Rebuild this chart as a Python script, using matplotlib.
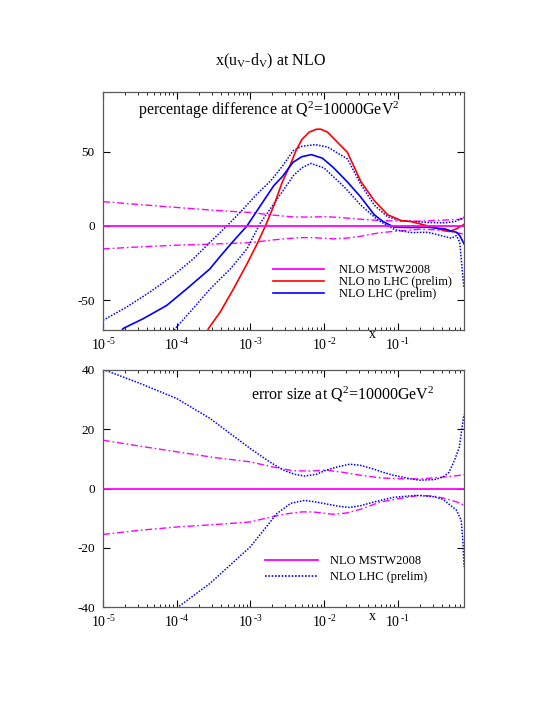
import numpy as np
import matplotlib
matplotlib.use("Agg")
import matplotlib.pyplot as plt

plt.rcParams["font.family"] = ["Liberation Serif", "DejaVu Serif"]
plt.rcParams["mathtext.fontset"] = "custom"
plt.rcParams["mathtext.rm"] = "Liberation Serif"
plt.rcParams["mathtext.it"] = "Liberation Serif:italic"
plt.rcParams["axes.unicode_minus"] = False

# ---- data (x given as log10 x) ----
xticks = [1e-5, 1e-4, 1e-3, 1e-2, 1e-1]
xtick_labels = [r"10$^{\,\text{-5}}$", r"10$^{\,\text{-4}}$", r"10$^{\,\text{-3}}$",
                r"10$^{\,\text{-2}}$", r"10$^{\,\text{-1}}$"]

# MSTW2008 error band (percent), same in both panels
mstw_up_lx = [-5, -4.5, -4, -3.5, -3, -2.7, -2.42, -2.2, -1.97, -1.75, -1.51, -1.24, -1.0, -0.7, -0.4, -0.2, -0.097]
mstw_up_y = [16.3, 14.3, 12.4, 10.5, 9.0, 7.3, 6.0, 5.9, 6.2, 5.5, 4.5, 3.6, 3.3, 3.2, 3.8, 4.3, 4.7]
mstw_dn_lx = [-5, -4.5, -4, -3.5, -3, -2.7, -2.49, -2.3, -2.15, -1.88, -1.7, -1.5, -1.24, -1.0, -0.7, -0.5, -0.35, -0.2, -0.097]
mstw_dn_y = [-15.5, -14.1, -13.0, -12.2, -11.3, -9.5, -8.5, -7.9, -7.9, -8.7, -8.3, -7.0, -4.6, -3.5, -2.3, -2.6, -3.4, -4.5, -5.6]

# percentage difference: no LHC fit
nolhc_lx = [-3.60, -3.567, -3.408, -3.227, -3.044, -2.907, -2.794, -2.68, -2.566, -2.453, -2.38, -2.30, -2.20,
            -2.10, -2.044, -1.95, -1.86, -1.68, -1.5, -1.316, -1.134, -0.952, -0.816, -0.59, -0.41, -0.294,
            -0.2, -0.13, -0.097]
nolhc_y = [-73, -69, -57.9, -42.3, -25.5, -12.1, 0, 13.6, 29.3, 41.5, 50.5, 58, 63, 65, 65, 63, 58.4, 49.4,
           30, 17, 7.5, 3.6, 2.9, 0, -2.5, -3.8, -2, 0, 1]

# percentage difference: LHC fit, central and error band
lhc_lx = [-4.76, -4.727, -4.454, -4.135, -3.862, -3.55, -3.4, -3.226, -3.044, -2.862, -2.681, -2.566, -2.42,
          -2.30, -2.17, -2.02, -1.875, -1.68, -1.51, -1.316, -1.2, -1.044, -0.816, -0.59, -0.36, -0.27, -0.2,
          -0.155, -0.097]
lhc_y = [-72, -69, -62.4, -53.5, -42.3, -29, -20, -10, 0, 13.6, 27, 33, 42.7, 46.5, 47.9, 45.5, 39.4, 29.5,
         20, 7.5, 3, -0.9, -1.1, -0.9, -2, -3.5, -4.3, -6.5, -12]
lhc_up_lx = [-5.0, -4.68, -4.363, -4.045, -3.772, -3.544, -3.317, -3.135, -2.907, -2.72, -2.55, -2.42, -2.3,
             -2.12, -1.95, -1.68, -1.5, -1.316, -1.134, -0.952, -0.8, -0.59, -0.36, -0.22, -0.15, -0.097]
lhc_up_y = [-63.5, -54.6, -44.5, -33.3, -22.1, -10.9, 0, 9.2, 21.5, 30.4, 41, 50.5, 53.5, 54.6, 53, 45, 28,
            14, 6, 3.5, 3, 2.3, 2.0, 2.9, 4.5, 5.8]
lhc_dn_lx = [-4.05, -4.02, -3.817, -3.544, -3.27, -3.044, -2.862, -2.635, -2.41, -2.3, -2.18, -2.0, -1.72,
             -1.5, -1.27, -1.04, -0.82, -0.59, -0.41, -0.27, -0.2, -0.155, -0.12, -0.097]
lhc_dn_y = [-72, -69, -57.9, -42.3, -28.9, -15.4, 2, 18, 34, 39, 42, 39, 26, 14, 4, -2.5, -4.5, -4.3, -6.5,
            -8.3, -6.5, -11, -30, -42]

# error size: LHC fit
err_up_lx = [-5, -4.5, -4, -3.55, -3.0, -2.75, -2.55, -2.4, -2.26, -2.1, -1.97, -1.8, -1.65, -1.5, -1.33,
             -1.2, -1.06, -0.85, -0.7, -0.5, -0.38, -0.3, -0.225, -0.16, -0.11, -0.097]
err_up_y = [40.2, 35.5, 30.4, 23.7, 13.5, 9.2, 6.2, 4.8, 4.2, 4.8, 6.2, 7.4, 8.2, 7.8, 6.6, 5.5, 4.5, 3.4,
            2.8, 3.0, 3.9, 5.5, 9.6, 14, 23, 25]
err_dn_lx = [-4.05, -3.98, -3.55, -3.0, -2.8, -2.64, -2.45, -2.26, -2.1, -1.97, -1.8, -1.65, -1.5, -1.33,
             -1.06, -0.74, -0.5, -0.38, -0.2, -0.135, -0.11, -0.097]
err_dn_y = [-42, -40, -32.1, -19.7, -13.5, -8.5, -5.0, -4.0, -4.6, -5.2, -6.0, -6.4, -5.8, -4.6, -3.0, -2.3,
            -2.8, -3.7, -7.3, -10.7, -18.6, -26.5]

MAG = "#ff00ff"
RED = "#ff0000"
BLUE = "#0000ff"
dashdot = (0, (5, 2, 1.2, 2))
dotted = (0, (1, 1))


def X(lx):
    return 10.0 ** np.array(lx)


fig = plt.figure(figsize=(5.56, 7.2), dpi=100)
W, H = 556.0, 720.0
ax1 = fig.add_axes([103 / W, 1 - 330 / H, 361 / W, 238 / H])
ax2 = fig.add_axes([103 / W, 1 - 607 / H, 361 / W, 237 / H])

for ax in (ax1, ax2):
    ax.set_xscale("log")
    ax.set_xlim(1e-5, 10 ** -0.097)
    ax.set_xticks(xticks)
    ax.set_xticklabels(xtick_labels)
    ax.tick_params(which="both", direction="in", top=True, right=True, colors="black")
    ax.tick_params(which="major", length=5, width=0.8)
    ax.tick_params(which="minor", length=2.5, width=0.6)
    ax.tick_params(axis="x", pad=5, labelsize=10)
    ax.tick_params(axis="y", pad=6, labelsize=9.5)
    for s in ax.spines.values():
        s.set_color("0.35")
        s.set_linewidth(0.9)
    ax.axhline(0, color=MAG, lw=1.3, zorder=3)
    ax.plot(X(mstw_up_lx), mstw_up_y, color=MAG, lw=1.0, linestyle=dashdot)
    ax.plot(X(mstw_dn_lx), mstw_dn_y, color=MAG, lw=1.0, linestyle=dashdot)

# top panel: percentage difference
ax1.set_ylim(-70, 90)
ax1.set_yticks([-50, 0, 50])
ax1.yaxis.set_minor_locator(plt.NullLocator())
ax1.plot(X(lhc_up_lx), lhc_up_y, color=BLUE, lw=1.1, linestyle=dotted)
ax1.plot(X(lhc_dn_lx), lhc_dn_y, color=BLUE, lw=1.1, linestyle=dotted)
ax1.plot(X(nolhc_lx), nolhc_y, color=RED, lw=1.2)
ax1.plot(X(lhc_lx), lhc_y, color=BLUE, lw=1.2)

h1 = [plt.Line2D([], [], color=MAG, lw=1.3),
      plt.Line2D([], [], color=RED, lw=1.2),
      plt.Line2D([], [], color=BLUE, lw=1.2)]
fig.legend(h1, ["NLO MSTW2008", "NLO no LHC (prelim)", "NLO LHC (prelim)"],
           loc="upper left", bbox_to_anchor=(273 / W, 1 - 264 / H), frameon=False,
           fontsize=9, handlelength=4.1, handletextpad=1.2, labelspacing=0.0,
           borderpad=0, borderaxespad=0)

# bottom panel: error size
ax2.set_ylim(-40, 40)
ax2.set_yticks([-40, -20, 0, 20, 40])
ax2.yaxis.set_minor_locator(plt.NullLocator())
ax2.plot(X(err_up_lx), err_up_y, color=BLUE, lw=1.1, linestyle=dotted)
ax2.plot(X(err_dn_lx), err_dn_y, color=BLUE, lw=1.1, linestyle=dotted)

h2 = [plt.Line2D([], [], color=MAG, lw=1.3),
      plt.Line2D([], [], color=BLUE, lw=1.2, linestyle=dotted)]
fig.legend(h2, ["NLO MSTW2008", "NLO LHC (prelim)"],
           loc="upper left", bbox_to_anchor=(265 / W, 1 - 555 / H), frameon=False,
           fontsize=9, handlelength=4.2, handletextpad=1.0, labelspacing=0.35,
           borderpad=0, borderaxespad=0)

# texts
fig.text(270 / W, 1 - 65 / H, r"x(u$_\mathrm{V}$-d$_\mathrm{V}$) at NLO", ha="center", va="baseline", fontsize=11.5)
fig.text(138 / W, 1 - 115 / H, r"percentage difference at Q$^2$=10000GeV$^2$", ha="left", va="baseline", fontsize=11.5)
fig.text(251 / W, 1 - 399 / H, r"error size at Q$^2$=10000GeV$^2$", ha="left", va="baseline", fontsize=11.5)
fig.text(372 / W, 1 - 335 / H, "x", ha="center", va="center", fontsize=10)
fig.text(372 / W, 1 - 617 / H, "x", ha="center", va="center", fontsize=10)

fig.savefig("out.png", dpi=100)
